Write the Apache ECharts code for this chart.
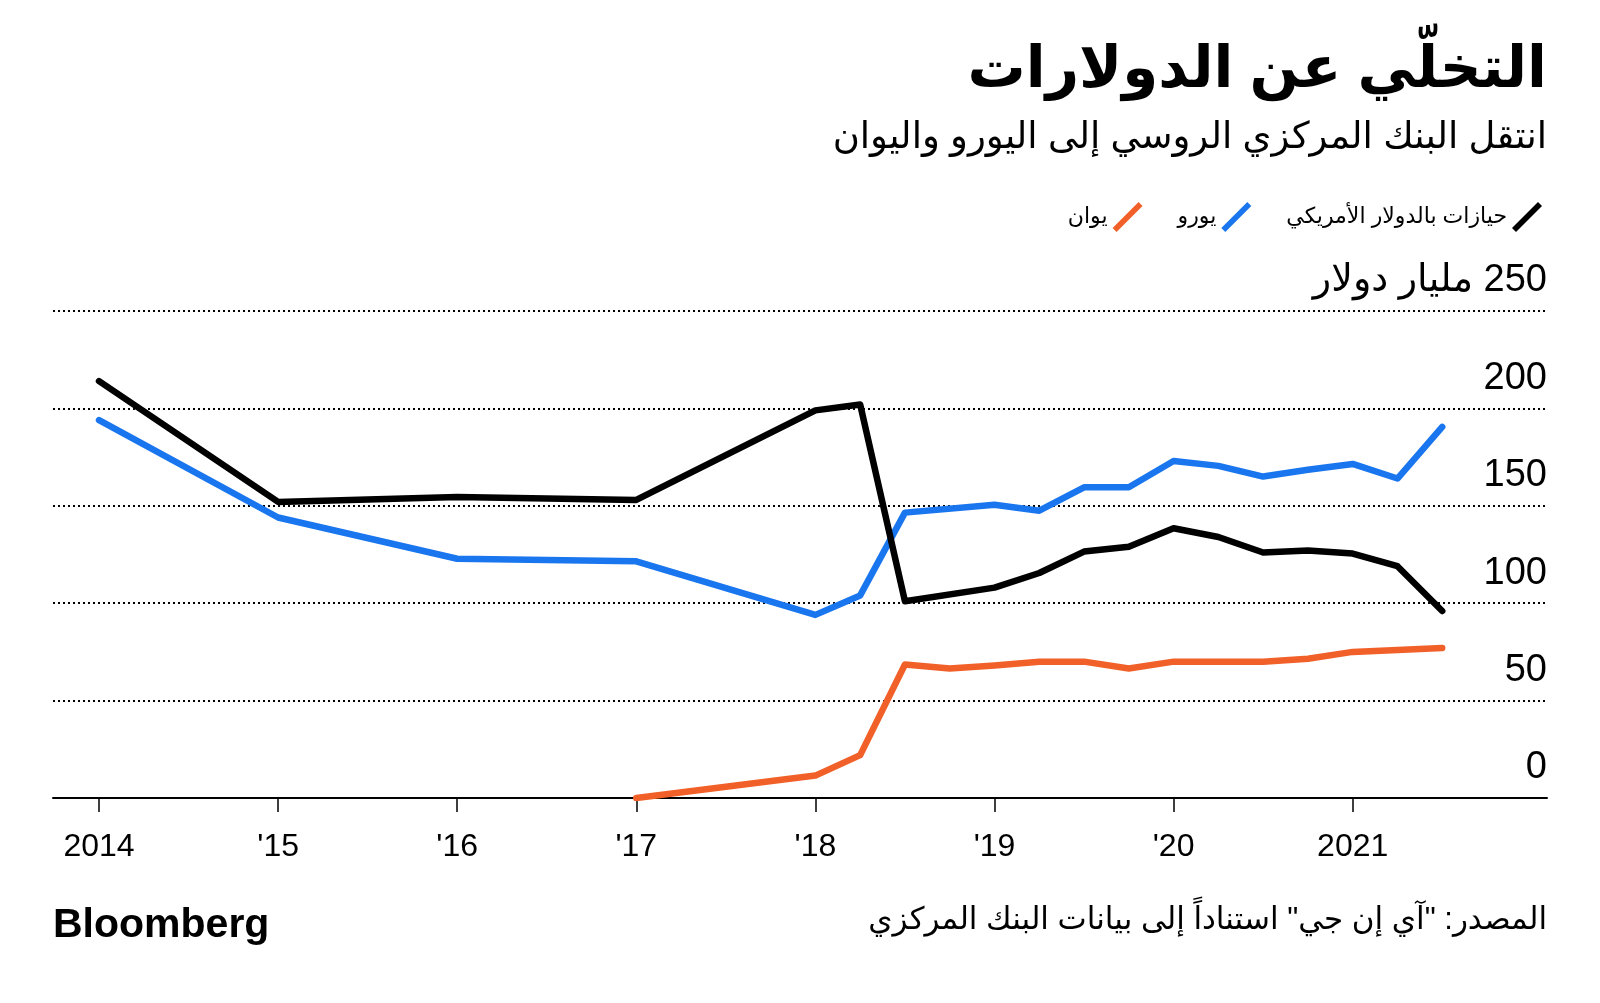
<!DOCTYPE html>
<html>
<head>
<meta charset="utf-8">
<script src="https://cdn.jsdelivr.net/npm/echarts@6/dist/echarts.min.js"></script>
<style>
html,body{margin:0;padding:0;background:#fff;}
#chart{width:1600px;height:1003px;}
</style>
</head>
<body>
<div id="chart"></div>
<script>
// ---- data ----
const tickYears = [2014, 2015, 2016, 2017, 2018, 2019, 2020, 2021];
const tickLabels = ['2014', "'15", "'16", "'17", "'18", "'19", "'20", '2021'];

const usdEurYears = [2014, 2015, 2016, 2017, 2018, 2018.25, 2018.5, 2019, 2019.25, 2019.5, 2019.75, 2020, 2020.25, 2020.5, 2020.75, 2021, 2021.25, 2021.5];
const usdValues = [214, 152, 154.5, 153, 199, 202, 101, 108, 115.5, 126.5, 129, 138.5, 134, 126, 127, 125.5, 119, 96];
const eurValues = [194, 144, 122.8, 121.5, 94, 104, 146.5, 150.5, 147.5, 159.5, 159.5, 173, 170.5, 165, 168.5, 171.5, 164, 190.5];

const cnyYears = [2017, 2018, 2018.25, 2018.5, 2018.75, 2019, 2019.25, 2019.5, 2019.75, 2020, 2020.25, 2020.5, 2020.75, 2021, 2021.25, 2021.5];
const cnyValues = [0, 11.5, 22, 68.5, 66.5, 68, 70, 70, 66.5, 70, 70, 70, 71.5, 75, 76, 77];

const seriesNames = ['حيازات بالدولار الأمريكي', 'يورو', 'يوان'];
const seriesColors = ['#000000', '#1a76ee', '#f2602a'];

const titleText = 'التخلّي عن الدولارات';
const subtitleText = 'انتقل البنك المركزي الروسي إلى اليورو واليوان';
const sourceText = '\u2067المصدر: "آي إن جي" استناداً إلى بيانات البنك المركزي\u2069';
const unitText = 'مليار دولار';

const FONT = '"Liberation Sans", "DejaVu Sans", sans-serif';

const pairs = (xs, ys) => xs.map((x, i) => [x, ys[i]]);

const chart = echarts.init(document.getElementById('chart'));
const slash = 'path://M0,26 L4,30 L30,4 L26,0 Z';

const mkSeries = (name, color, data, z) => ({
  name, type: 'line', data, symbol: 'none', z,
  lineStyle: { color, width: 6.5, cap: 'round', join: 'round' },
  itemStyle: { color },
  emphasis: { disabled: true },
  animation: false
});

chart.setOption({
  animation: false,
  backgroundColor: '#fff',
  textStyle: { fontFamily: FONT },
  grid: { left: 53, right: 53, top: 311, bottom: 205 },
  legend: {
    data: [seriesNames[2], seriesNames[1], seriesNames[0]],
    right: 53, top: 197,
    align: 'right',
    itemWidth: 30, itemHeight: 30, itemGap: 35,
    icon: slash,
    textStyle: { fontSize: 22, color: '#000', fontFamily: FONT, padding: [0, 0, 0, 0] },
    selectedMode: false
  },
  xAxis: {
    type: 'value',
    min: 2013.743, max: 2022.085,
    axisLine: { show: true, lineStyle: { color: '#000', width: 2 } },
    splitLine: { show: false },
    axisTick: { show: true, customValues: tickYears, length: 14, lineStyle: { color: '#000', width: 1.5 } },
    axisLabel: {
      customValues: tickYears,
      formatter: v => tickLabels[tickYears.indexOf(Math.round(v))],
      margin: 33, fontSize: 32, color: '#000', fontFamily: FONT
    }
  },
  yAxis: {
    type: 'value', position: 'right',
    min: 0, max: 250, interval: 50,
    axisLine: { show: false }, axisTick: { show: false },
    splitLine: { show: true, lineStyle: { color: '#000', width: 2, type: [2, 3] } },
    axisLabel: {
      inside: true, margin: 0, align: 'right', verticalAlign: 'bottom',
      padding: [0, 0, 11, 0],
      fontSize: 38, color: '#000', fontFamily: FONT,
      formatter: v => v === 250 ? '\u2067250 ' + unitText + '\u2069' : String(v)
    }
  },
  series: [
    mkSeries(seriesNames[1], seriesColors[1], pairs(usdEurYears, eurValues), 3),
    mkSeries(seriesNames[0], seriesColors[0], pairs(usdEurYears, usdValues), 4),
    mkSeries(seriesNames[2], seriesColors[2], pairs(cnyYears, cnyValues), 5)
  ],
  graphic: [
    { type: 'text', right: 53, top: 42, style: { text: titleText, fontSize: 58, fontWeight: 'bold', fill: '#000', fontFamily: FONT } },
    { type: 'text', right: 53, top: 119, style: { text: subtitleText, fontSize: 37, fill: '#000', fontFamily: FONT } },
    { type: 'text', left: 53, top: 905, style: { text: 'Bloomberg', fontSize: 41, fontWeight: 'bold', fill: '#000', fontFamily: FONT } },
    { type: 'text', right: 53, top: 905, style: { text: sourceText, fontSize: 31, fill: '#000', fontFamily: FONT } }
  ]
});
</script>
</body>
</html>
